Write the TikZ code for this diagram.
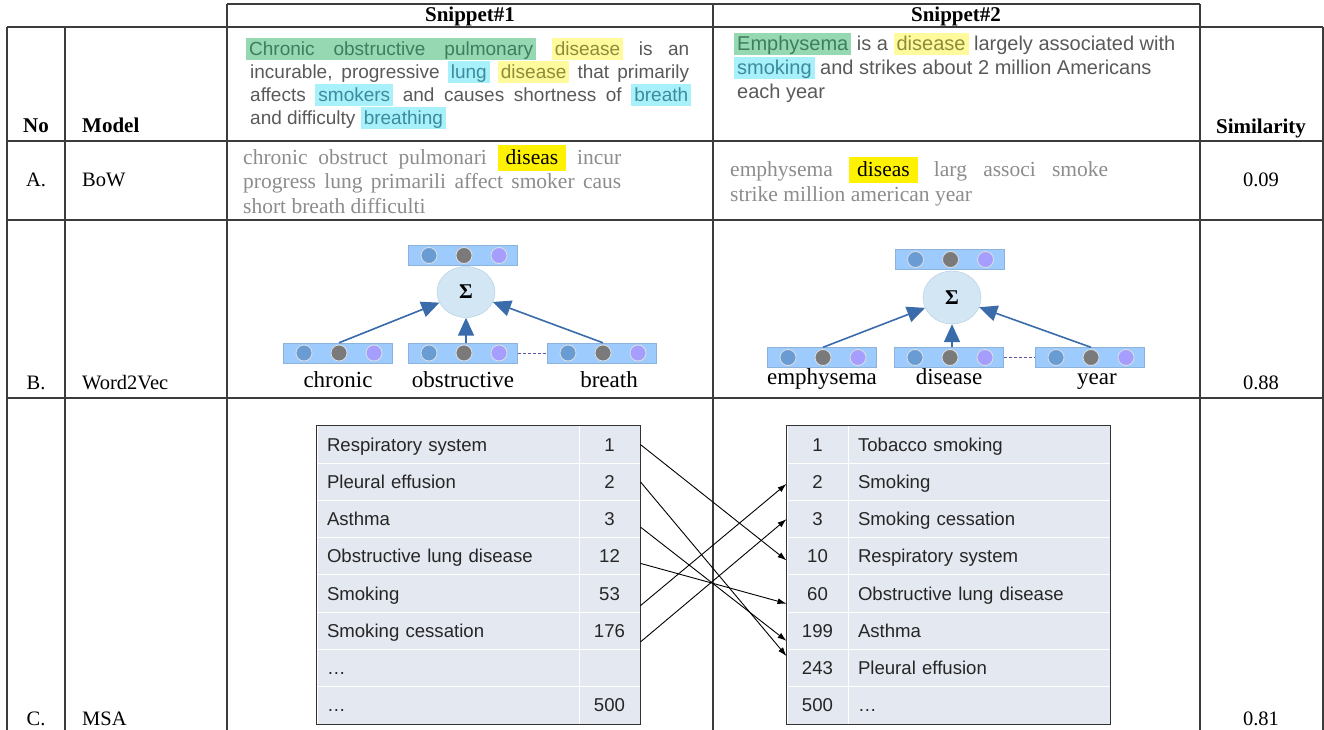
\documentclass[tikz,border=0pt]{standalone}
\usepackage{fontspec}
\setmainfont{Liberation Serif}
\newfontfamily\arialfont{Liberation Sans}
\usepackage{tikz}
\usetikzlibrary{arrows.meta,positioning,shapes.geometric}

\definecolor{snipgray}{HTML}{595959}
\definecolor{bowgray}{HTML}{8C8C8C}
\definecolor{hlgreen}{HTML}{96D8B2}
\definecolor{hlyellow}{HTML}{FFFA9C}
\definecolor{hlcyan}{HTML}{A8F0FA}
\definecolor{txgreen}{HTML}{3E7D5E}
\definecolor{txyellow}{HTML}{8C8C3A}
\definecolor{txcyan}{HTML}{3A8C9E}
\definecolor{bowyellow}{HTML}{FFF200}
\definecolor{vecfill}{HTML}{9DCBFD}
\definecolor{vecedge}{HTML}{8DB3DB}
\definecolor{dotblue}{HTML}{6A9CD4}
\definecolor{dotgray}{HTML}{7A7A7A}
\definecolor{dotviolet}{HTML}{A59EFF}
\definecolor{sumfill}{HTML}{D2E6F4}
\definecolor{sumedge}{HTML}{AECBE2}
\definecolor{sumarrow}{HTML}{3A6BAA}
\definecolor{cellfill}{HTML}{E4E8F0}
\definecolor{gridline}{HTML}{3C3C3C}

% highlighted words
\newcommand{\hlword}[3]{{\setlength{\fboxsep}{0pt}\colorbox{#1}{\rule[-4pt]{0pt}{22pt}\hspace{3pt}\textcolor{#2}{#3}\hspace{3pt}}}}
\newcommand{\stemhl}[1]{{\setlength{\fboxsep}{0pt}\colorbox{bowyellow}{\rule[-6pt]{0pt}{26pt}\hspace{8pt}\textcolor{black}{#1}\hspace{8pt}}}}

\begin{document}
\begin{tikzpicture}[x=1pt,y=-1pt]
		\tikzstyle{grid}=[line width=1.5pt, color=gridline]
		\tikzstyle{head}=[font=\fontsize{21}{24}\selectfont\bfseries, inner sep=0pt, anchor=base]
		\tikzstyle{cellt}=[font=\fontsize{20.5}{24}\selectfont, inner sep=0pt, anchor=base]
		\tikzstyle{snip-a}=[font=\arialfont\fontsize{19}{23}\selectfont, text=snipgray, inner sep=0pt, anchor=base west]
		\tikzstyle{snip-b}=[font=\arialfont\fontsize{20}{24}\selectfont, text=snipgray, inner sep=0pt, anchor=base west]
		\tikzstyle{stem}=[font=\fontsize{21.5}{24}\selectfont, text=bowgray, inner sep=0pt, anchor=base west]
		\tikzstyle{vecbar}=[rectangle, draw=vecedge, fill=vecfill, minimum width=109pt, minimum height=20pt, inner sep=0pt]
		\tikzstyle{vecdot}=[circle, draw=white!75!gray, line width=0.8pt, minimum size=16pt, inner sep=0pt]
		\tikzstyle{sumnode}=[ellipse, draw=sumedge, fill=sumfill, minimum width=58pt, minimum height=51pt, inner sep=0pt, font=\fontsize{21}{21}\selectfont\bfseries]
		\tikzstyle{addto}=[-{Triangle[length=18pt,width=16pt]}, color=sumarrow, line width=1.6pt]
		\tikzstyle{wordlbl}=[font=\fontsize{23}{26}\selectfont, text height=15pt, text depth=5pt, inner sep=0pt]
		\tikzstyle{namecell}=[fill=cellfill, draw=white, line width=1pt, minimum width=262pt, minimum height=37.25pt, text width=242pt, align=left, inner sep=0pt, text height=13pt, text depth=0pt, font=\arialfont\fontsize{18.6}{20}\selectfont, text=black!85]
		\tikzstyle{numcell}=[fill=cellfill, draw=white, line width=1pt, minimum width=61pt, minimum height=37.25pt, inner sep=0pt, text height=13pt, text depth=0pt, font=\arialfont\fontsize{18.6}{20}\selectfont, text=black!85]
		\tikzstyle{tablebox}=[line width=1.3pt, color=black!80]
		\tikzstyle{mapsto}=[-{Latex[length=9pt,width=6pt]}, line width=0.9pt]
		\useasboundingbox (0,0) rectangle (1324,730);
		% table rules
		\draw [grid] (227,4) -- (1200,4);
		\draw [grid] (7,27) -- (1323,27);
		\draw [grid] (7,141) -- (1323,141);
		\draw [grid] (7,220) -- (1323,220);
		\draw [grid] (7,398) -- (1323,398);
		\draw [grid] (7,27) -- (7,730);
		\draw [grid] (65,27) -- (65,730);
		\draw [grid] (227,4) -- (227,730);
		\draw [grid] (713,4) -- (713,730);
		\draw [grid] (1200,4) -- (1200,730);
		\draw [grid] (1323,27) -- (1323,730);
		% header
		\node [head] (h1) at (470,22) {Snippet\#1};
		\node [head] (h2) at (956,22) {Snippet\#2};
		\node [head] (hno) at (36,133) {No};
		\node [head, anchor=base west] (hmodel) at (82,133) {Model};
		\node [head] (hsim) at (1261,134) {Similarity};
		% snippet texts
		\node [snip-a] (t1) at (246,56) {\makebox[443pt][s]{\hlword{hlgreen}{txgreen}{\makebox[284pt][s]{Chronic obstructive pulmonary}} \hlword{hlyellow}{txyellow}{disease} is an}};
		\node [snip-a] (t2) at (250,79) {\makebox[439pt][s]{incurable, progressive \hlword{hlcyan}{txcyan}{lung} \hlword{hlyellow}{txyellow}{disease} that primarily}};
		\node [snip-a] (t3) at (250,102) {\makebox[441pt][s]{affects \hlword{hlcyan}{txcyan}{smokers} and causes shortness of \hlword{hlcyan}{txcyan}{breath}}};
		\node [snip-a] (t4) at (250,125) {and difficulty \hlword{hlcyan}{txcyan}{breathing}};
		\node [snip-b] (u1) at (734,51) {\hlword{hlgreen}{txgreen}{Emphysema} is a \hlword{hlyellow}{txyellow}{disease} largely associated with};
		\node [snip-b] (u2) at (734,75) {\hlword{hlcyan}{txcyan}{smoking} and strikes about 2 million Americans};
		\node [snip-b] (u3) at (737,99) {each year};
		% A. BoW
		\node [cellt] (na) at (36,186) {A.};
		\node [cellt, anchor=base west] (ma) at (82,186) {BoW};
		\node [stem] (b1) at (243,165) {\makebox[378pt][s]{chronic obstruct pulmonari \stemhl{diseas} incur}};
		\node [stem] (b2) at (243,189) {\makebox[378pt][s]{progress lung primarili affect smoker caus}};
		\node [stem] (b3) at (243,213) {short breath difficulti};
		\node [stem] (c1) at (730,177) {\makebox[378pt][s]{emphysema \stemhl{diseas} larg associ smoke}};
		\node [stem] (c2) at (730,201) {strike million american year};
		\node [cellt] (sa) at (1261,186) {0.09};
		% B. Word2Vec
		\node [cellt] (nb) at (36,389) {B.};
		\node [cellt, anchor=base west] (mb) at (82,389) {Word2Vec};
		\node [cellt] (sb) at (1261,389) {0.88};
		\node [vecbar] (s1top) at (463,255.5) {};
		\node [sumnode] (s1sum) at (466,292) {Σ};
		\node [vecbar] (s1a) at (338,353) {};
		\node [vecbar] (s1b) at (463,353) {};
		\node [vecbar] (s1c) at (602,353) {};
		\node [vecbar] (s2top) at (949.5,259.5) {};
		\node [sumnode, minimum height=53pt] (s2sum) at (952,297.5) {Σ};
		\node [vecbar] (s2a) at (822,357.5) {};
		\node [vecbar] (s2b) at (949,357.5) {};
		\node [vecbar] (s2c) at (1090,357.5) {};
		\foreach \b in {s1top,s1a,s1b,s1c,s2top,s2a,s2b,s2c} {
			\node [vecdot, fill=dotblue] (\b-1) at ([xshift=-34pt]\b.center) {};
			\node [vecdot, fill=dotgray] (\b-2) at ([xshift=1pt]\b.center) {};
			\node [vecdot, fill=dotviolet] (\b-3) at ([xshift=36pt]\b.center) {};
		}
		\draw [addto] (s1a.north -| s1a-2) -- (s1sum);
		\draw [addto] (s1b.north -| s1sum) -- (s1sum);
		\draw [addto] (s1c.north -| s1c-2) -- (s1sum);
		\draw [addto] (s2a.north -| s2a-2) -- (s2sum);
		\draw [addto] (s2b.north -| s2sum) -- (s2sum);
		\draw [addto] (s2c.north -| s2c-2) -- (s2sum);
		\draw [dashed, dash pattern=on 3pt off 2pt, line width=1pt, color=gray!70!blue] (s1b) -- (s1c);
		\draw [dashed, dash pattern=on 3pt off 2pt, line width=1pt, color=gray!70!blue] (s2b) -- (s2c);
		\node [wordlbl, below=9pt of s1a] (w1a) {chronic};
		\node [wordlbl, below=9pt of s1b] (w1b) {obstructive};
		\node [wordlbl, below=9pt of s1c, xshift=7pt] (w1c) {breath};
		\node [wordlbl, below=2pt of s2a] (w2a) {emphysema};
		\node [wordlbl, below=2pt of s2b] (w2b) {disease};
		\node [wordlbl, below=2pt of s2c, xshift=7pt] (w2c) {year};
		% C. MSA
		\node [cellt] (nc) at (36,725) {C.};
		\node [cellt, anchor=base west] (mc) at (82,725) {MSA};
		\node [cellt] (sc) at (1261,725) {0.81};
		% left concept list
		\node [namecell] (lt1) at (448,444.6) {Respiratory system};
		\node [numcell] (ln1) at (609.5,444.6) {1};
		\node [namecell] (lt2) at (448,481.9) {Pleural effusion};
		\node [numcell] (ln2) at (609.5,481.9) {2};
		\node [namecell] (lt3) at (448,519.1) {Asthma};
		\node [numcell] (ln3) at (609.5,519.1) {3};
		\node [namecell] (lt4) at (448,556.4) {Obstructive lung disease};
		\node [numcell] (ln4) at (609.5,556.4) {12};
		\node [namecell] (lt5) at (448,593.6) {Smoking};
		\node [numcell] (ln5) at (609.5,593.6) {53};
		\node [namecell] (lt6) at (448,630.9) {Smoking cessation};
		\node [numcell] (ln6) at (609.5,630.9) {176};
		\node [namecell] (lt7) at (448,668.1) {\ldots};
		\node [numcell] (ln7) at (609.5,668.1) {};
		\node [namecell] (lt8) at (448,705.4) {\ldots};
		\node [numcell] (ln8) at (609.5,705.4) {500};
		\draw [tablebox] (lt1.north west) rectangle (ln8.south east);
		% right concept list
		\node [numcell] (rn1) at (817.5,444.6) {1};
		\node [namecell] (rt1) at (979,444.6) {Tobacco smoking};
		\node [numcell] (rn2) at (817.5,481.9) {2};
		\node [namecell] (rt2) at (979,481.9) {Smoking};
		\node [numcell] (rn3) at (817.5,519.1) {3};
		\node [namecell] (rt3) at (979,519.1) {Smoking cessation};
		\node [numcell] (rn4) at (817.5,556.4) {10};
		\node [namecell] (rt4) at (979,556.4) {Respiratory system};
		\node [numcell] (rn5) at (817.5,593.6) {60};
		\node [namecell] (rt5) at (979,593.6) {Obstructive lung disease};
		\node [numcell] (rn6) at (817.5,630.9) {199};
		\node [namecell] (rt6) at (979,630.9) {Asthma};
		\node [numcell] (rn7) at (817.5,668.1) {243};
		\node [namecell] (rt7) at (979,668.1) {Pleural effusion};
		\node [numcell] (rn8) at (817.5,705.4) {500};
		\node [namecell] (rt8) at (979,705.4) {\ldots};
		\draw [tablebox] (rn1.north west) rectangle (rt8.south east);
		% mapsto
		\draw [mapsto] (ln1.east) -- ([yshift=-4pt]rn4.west);
		\draw [mapsto] (ln2.east) -- ([yshift=12pt]rn7.west);
		\draw [mapsto] ([yshift=-8pt]ln3.east) -- ([yshift=-10pt]rn6.west);
		\draw [mapsto] ([yshift=-7pt]ln4.east) -- ([yshift=-10pt]rn5.west);
		\draw [mapsto] ([yshift=-12pt]ln5.east) -- ([yshift=-2pt]rn2.west);
		\draw [mapsto] ([yshift=-11pt]ln6.east) -- (rn3.west);
	\end{tikzpicture}
\end{document}
